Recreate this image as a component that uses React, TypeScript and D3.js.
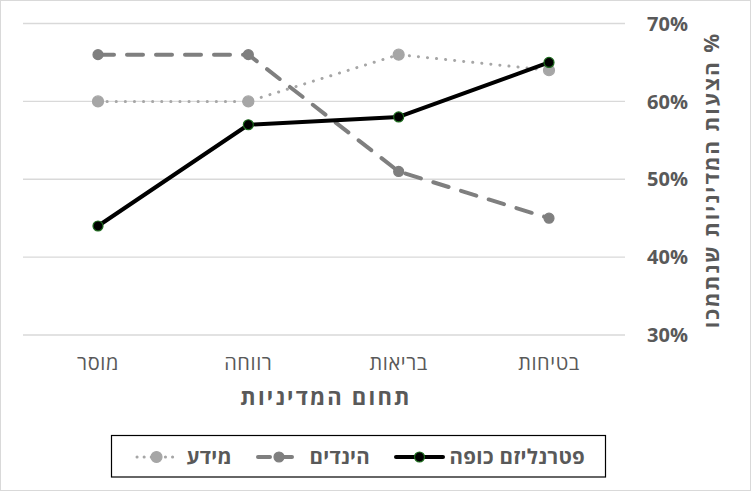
import React from "react";
import * as d3 from "d3";

const categories = ["מוסר", "רווחה", "בריאות", "בטיחות"];
const infoValues = [60, 60, 66, 64];
const nudgeValues = [66, 66, 51, 45];
const coercionValues = [44, 57, 58, 65];
const yTicks = [30, 40, 50, 60, 70];
const seriesNames = ["פטרנליזם כופה", "הינדים", "מידע"];
const xTitle = "תחום המדיניות";
const yTitle = "% הצעות המדיניות שנתמכו";

const W = 751;
const H = 491;
const FONT = "'Open Sans', 'DejaVu Sans', sans-serif";

export default function App() {
  const x = d3.scalePoint<string>().domain(categories).range([98, 549]);
  const y = d3.scaleLinear().domain([30, 70]).range([335, 23.5]);
  const line = d3
    .line<number>()
    .x((_, i) => x(categories[i]) as number)
    .y((d) => y(d));

  const series = [
    { name: seriesNames[2], values: infoValues, color: "#A6A6A6", width: 3, dash: "0.1 9", legendDash: "0.1 7", r: 5.5, mstroke: "#A6A6A6" },
    { name: seriesNames[1], values: nudgeValues, color: "#7F7F7F", width: 4, dash: "16 13", legendDash: "12 10", r: 5, mstroke: "#7F7F7F" },
    { name: seriesNames[0], values: coercionValues, color: "#000000", width: 4, dash: null, legendDash: null, r: 5, mstroke: "#1E6B1E" },
  ];

  const legendItems = [
    { s: series[2], lineX: [396, 443], textRight: 585 },
    { s: series[1], lineX: [258, 300], textRight: 370 },
    { s: series[0], lineX: [137, 176], textRight: 232 },
  ];

  return (
    <svg
      width={W}
      height={H}
      style={{ position: "absolute", left: 0, top: 0, background: "#fff" }}
      fontFamily={FONT}
    >
      <rect x={0.5} y={0.5} width={W - 1} height={H - 1} fill="#fff" stroke="#D9D9D9" />
      {yTicks.map((t) => (
        <g key={t}>
          <line x1={23} x2={625} y1={y(t)} y2={y(t)} stroke="#D9D9D9" strokeWidth={1.3} />
          <text x={688} y={y(t)} dy="0.36em" textAnchor="end" fontSize={20} fontWeight="bold" fill="#595959">
            {t}%
          </text>
        </g>
      ))}
      {categories.map((c) => (
        <text key={c} x={x(c)} y={363} dy="0.36em" textAnchor="middle" fontSize={20} fill="#595959" direction="rtl" letterSpacing={0.6}>
          {c}
        </text>
      ))}
      <text x={326} y={397.5} dy="0.36em" textAnchor="middle" fontSize={22} fontWeight="bold" fill="#595959" direction="rtl" letterSpacing={2.2}>
        {xTitle}
      </text>
      <text
        transform={`translate(711, 180) rotate(-90)`}
        textAnchor="middle"
        dy="0.36em"
        fontSize={21}
        fontWeight="bold"
        fill="#595959"
        direction="rtl"
        letterSpacing={2}
      >
        {yTitle}
      </text>
      {series.map((s) => (
        <g key={s.name}>
          <path
            d={line(s.values) || ""}
            fill="none"
            stroke={s.color}
            strokeWidth={s.width}
            strokeDasharray={s.dash || undefined}
            strokeLinecap="round"
            strokeLinejoin="round"
          />
          {s.values.map((v, i) => (
            <circle key={i} cx={x(categories[i])} cy={y(v)} r={s.r} fill={s.color} stroke={s.mstroke} strokeWidth={1.2} />
          ))}
        </g>
      ))}
      <rect x={111.5} y={435.5} width={494} height={41.5} fill="none" stroke="#000" strokeWidth={1.2} />
      {legendItems.map(({ s, lineX, textRight }) => (
        <g key={s.name}>
          <line
            x1={lineX[0]}
            x2={lineX[1]}
            y1={457}
            y2={457}
            stroke={s.color}
            strokeWidth={s.width}
            strokeDasharray={s.legendDash || undefined}
            strokeLinecap="round"
          />
          <circle cx={(lineX[0] + lineX[1]) / 2} cy={457} r={s.r} fill={s.color} stroke={s.mstroke} strokeWidth={1.2} />
          <text x={textRight} y={457} dy="0.36em" textAnchor="start" direction="rtl" fontSize={20.5} fontWeight="bold" fill="#595959" letterSpacing={0.3}>
            {s.name}
          </text>
        </g>
      ))}
    </svg>
  );
}
